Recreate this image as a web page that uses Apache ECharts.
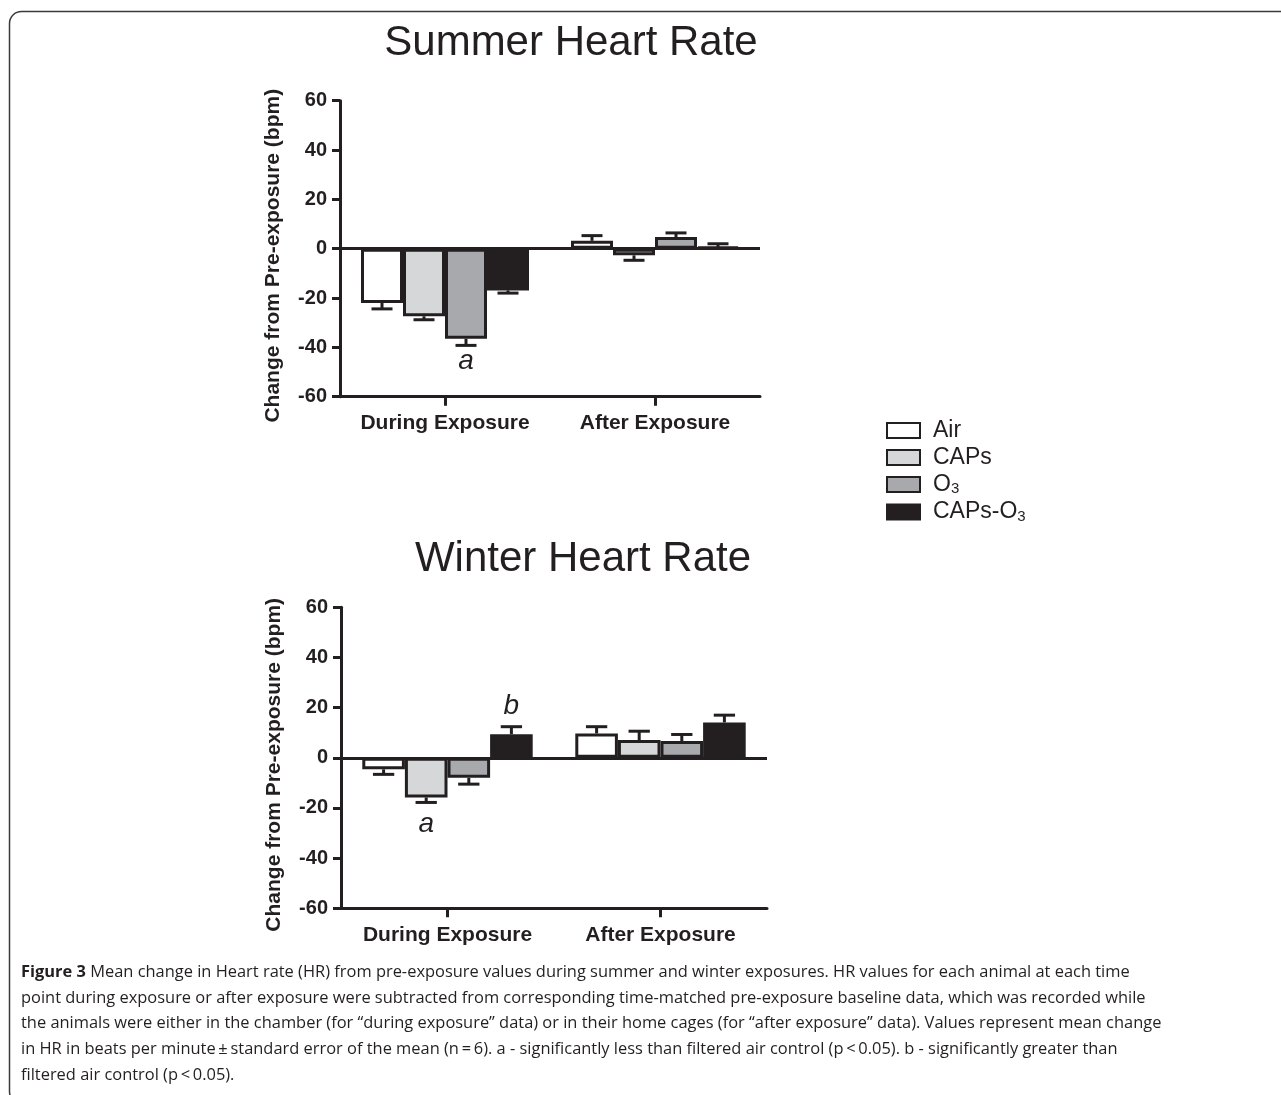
<!DOCTYPE html>
<html>
<head>
<meta charset="utf-8">
<script src="https://cdn.jsdelivr.net/npm/echarts@6/dist/echarts.min.js"></script>
<style>
html,body{margin:0;padding:0;background:#fff;}
#chart{width:1281px;height:1095px;}
</style>
</head>
<body>
<div id="chart"></div>
<script>
// ---------- DATA ----------
const categories = ['During Exposure', 'After Exposure'];
const groupNames = ['Air', 'CAPs', 'O3', 'CAPs-O3'];

// Summer means (bpm) [During, After]
const summerAir    = [-22.0, 3.2];
const summerCaps   = [-27.4, -2.7];
const summerO3     = [-36.5, 4.7];
const summerCapsO3 = [-16.9, 0.7];
// Summer SEM
const summerAirSem    = [2.4, 2.1];
const summerCapsSem   = [1.4, 2.0];
const summerO3Sem     = [2.7, 1.7];
const summerCapsO3Sem = [1.1, 1.3];

// Winter means (bpm) [During, After]
const winterAir    = [-4.6, 9.7];
const winterCaps   = [-15.8, 7.1];
const winterO3     = [-8.0, 6.7];
const winterCapsO3 = [9.4, 14.1];
// Winter SEM
const winterAirSem    = [2.0, 2.7];
const winterCapsSem   = [2.0, 3.5];
const winterO3Sem     = [2.5, 2.6];
const winterCapsO3Sem = [3.0, 2.9];

// Significance letters: [categoryIndex, groupIndex, yValue, letter]
const summerLetters = [[0, 2, -45.5, 'a']];
const winterLetters = [[0, 1, -26.5, 'a'], [0, 3, 20.5, 'b']];

const yMin = -60, yMax = 60, yStep = 20;

const captionLines = [
  '{b|Figure 3} Mean change in Heart rate (HR) from pre-exposure values during summer and winter exposures. HR values for each animal at each time',
  'point during exposure or after exposure were subtracted from corresponding time-matched pre-exposure baseline data, which was recorded while',
  'the animals were either in the chamber (for \u201cduring exposure\u201d data) or in their home cages (for \u201cafter exposure\u201d data). Values represent mean change',
  'in HR in beats per minute\u2009\u00b1\u2009standard error of the mean (n\u2009=\u20096). a - significantly less than filtered air control (p\u2009<\u20090.05). b - significantly greater than',
  'filtered air control (p\u2009<\u20090.05).'
];

// ---------- STYLE ----------
const INK = '#231f20';
const fills = ['#ffffff', '#d6d7d9', '#a8a9ac', '#231f20'];
const AX = 'Liberation Sans, Arial, Helvetica, sans-serif';
const CAP_FONT = 'Open Sans';

const summerMeans = [summerAir, summerCaps, summerO3, summerCapsO3];
const summerSems = [summerAirSem, summerCapsSem, summerO3Sem, summerCapsO3Sem];
const winterMeans = [winterAir, winterCaps, winterO3, winterCapsO3];
const winterSems = [winterAirSem, winterCapsSem, winterO3Sem, winterCapsO3Sem];

const BAR_FRAC = 0.2;

function barX(api, cat, k) {
  const c = api.coord([cat, 0]);
  const band = api.size([1, 0])[0];
  const bw = band * BAR_FRAC;
  return c[0] + (k - 1.5) * bw;
}

function errorSeries(means, sems, gi) {
  const data = [];
  means.forEach((m, k) => {
    m.forEach((v, cat) => data.push([cat, v, sems[k][cat], k]));
  });
  return {
    type: 'custom',
    xAxisIndex: gi, yAxisIndex: gi,
    silent: true,
    z: 1,
    clip: false,
    encode: { x: 0, y: 1 },
    data: data,
    renderItem: function (params, api) {
      const cat = api.value(0), mean = api.value(1), sem = api.value(2), k = api.value(3);
      const x = barX(api, cat, k);
      const band = api.size([1, 0])[0];
      const capW = band * BAR_FRAC * 0.5;
      const end = mean >= 0 ? mean + sem : mean - sem;
      const y0 = api.coord([cat, mean])[1];
      const y1 = api.coord([cat, end])[1];
      const st = { stroke: INK, lineWidth: 3 };
      return {
        type: 'group',
        children: [
          { type: 'line', shape: { x1: x, y1: y0, x2: x, y2: y1 }, style: st },
          { type: 'line', shape: { x1: x - capW / 2, y1: y1, x2: x + capW / 2, y2: y1 }, style: st }
        ]
      };
    }
  };
}

function letterSeries(letters, gi) {
  return {
    type: 'custom',
    xAxisIndex: gi, yAxisIndex: gi,
    silent: true,
    z: 5,
    clip: false,
    encode: { x: 0, y: 2 },
    data: letters.map(l => [l[0], l[1], l[2]]),
    renderItem: function (params, api) {
      const l = letters[params.dataIndex];
      const x = barX(api, api.value(0), api.value(1));
      const y = api.coord([api.value(0), api.value(2)])[1];
      return {
        type: 'text',
        x: x, y: y,
        style: {
          text: l[3], fill: INK, font: 'italic 28px ' + AX,
          align: 'center', verticalAlign: 'middle'
        }
      };
    }
  };
}

function barSeries(means, gi) {
  return means.map((vals, k) => {
    const s = {
      name: groupNames[k],
      type: 'bar',
      xAxisIndex: gi, yAxisIndex: gi,
      data: vals,
      barWidth: (BAR_FRAC * 100) + '%',
      barGap: '0%',
      z: 2,
      itemStyle: { color: fills[k], borderColor: INK, borderWidth: 3 }
    };
    if (k === 0) {
      s.markLine = {
        silent: true, symbol: ['none', 'none'], label: { show: false },
        lineStyle: { color: INK, width: 3, type: 'solid' },
        data: [{ yAxis: 0 }],
        animation: false
      };
    }
    return s;
  });
}

function xAxisDef(gi) {
  return {
    type: 'category', gridIndex: gi, data: categories,
    axisLine: { show: true, onZero: false, lineStyle: { color: INK, width: 3 } },
    axisTick: { show: true, alignWithLabel: true, interval: 0, inside: false, length: 9, lineStyle: { color: INK, width: 3 } },
    axisLabel: { interval: 0, hideOverlap: false, color: INK, fontFamily: AX, fontWeight: 'bold', fontSize: 21, margin: 16 },
    splitLine: { show: false }
  };
}
function yAxisDef(gi) {
  return {
    type: 'value', gridIndex: gi, min: yMin, max: yMax, interval: yStep,
    name: 'Change from Pre-exposure (bpm)',
    nameLocation: 'middle', nameRotate: 90, nameGap: 56,
    nameTextStyle: { color: INK, fontFamily: AX, fontWeight: 'bold', fontSize: 21, padding: [0, 14, 0, 0] },
    axisLine: { show: true, lineStyle: { color: INK, width: 3 } },
    axisTick: { show: true, length: 8, lineStyle: { color: INK, width: 3 } },
    axisLabel: { color: INK, fontFamily: AX, fontWeight: 'bold', fontSize: 20, margin: 13 },
    splitLine: { show: false }
  };
}

// caption font size fitted to the first line width
function captionSize() {
  const c = document.createElement('canvas').getContext('2d');
  const plain = captionLines[0].replace('{b|Figure 3}', 'Figure 3');
  c.font = '16px "' + CAP_FONT + '"';
  const w = c.measureText(plain).width;
  return Math.min(18, 16 * 1106 / w);
}
const capSize = captionSize();

const graphics = [
  { type: 'rect', shape: { x: 9.5, y: 11.5, width: 1400, height: 1092, r: 12 },
    style: { fill: 'none', stroke: '#3a3a3a', lineWidth: 1.5 }, silent: true },
  { type: 'text', x: 571, y: 43, style: { text: 'Summer Heart Rate', font: '42px ' + AX, fill: INK, align: 'center', verticalAlign: 'middle' } },
  { type: 'text', x: 583, y: 559, style: { text: 'Winter Heart Rate', font: '42px ' + AX, fill: INK, align: 'center', verticalAlign: 'middle' } }
];
captionLines.forEach((t, i) => {
  graphics.push({
    type: 'text', x: 21, y: 972 + i * 25.9,
    style: {
      text: t, fill: INK, font: capSize + 'px "' + CAP_FONT + '"',
      align: 'left', verticalAlign: 'middle',
      rich: { b: { fontWeight: 'bold', fontFamily: CAP_FONT, fontSize: capSize, fill: INK, color: INK } }
    }
  });
});

const option = {
  backgroundColor: '#ffffff',
  animation: false,
  grid: [
    { left: 340, top: 100.7, width: 420, height: 296 },
    { left: 341, top: 607.3, width: 426, height: 301 }
  ],
  xAxis: [xAxisDef(0), xAxisDef(1)],
  yAxis: [yAxisDef(0), yAxisDef(1)],
  legend: {
    data: groupNames,
    orient: 'vertical',
    left: 881, top: 414,
    itemWidth: 33, itemHeight: 15, itemGap: 4,
    icon: 'rect',
    selectedMode: false,
    formatter: function (name) {
      if (name === 'O3') return '{n|O}{s|3}';
      if (name === 'CAPs-O3') return '{n|CAPs-O}{s|3}';
      return '{n|' + name + '}';
    },
    textStyle: {
      color: INK, fontFamily: AX,
      rich: {
        n: { fontSize: 23, lineHeight: 24, color: INK, fontFamily: AX, padding: [0, 0, 0, 8] },
        s: { fontSize: 15, lineHeight: 20, color: INK, fontFamily: AX, verticalAlign: 'bottom', padding: [6, 0, 0, 0] }
      }
    }
  },
  series: [].concat(
    barSeries(summerMeans, 0),
    [errorSeries(summerMeans, summerSems, 0), letterSeries(summerLetters, 0)],
    barSeries(winterMeans, 1),
    [errorSeries(winterMeans, winterSems, 1), letterSeries(winterLetters, 1)]
  ),
  graphic: graphics
};

const chart = echarts.init(document.getElementById('chart'), null, { renderer: 'canvas' });
chart.setOption(option);
</script>
</body>
</html>
